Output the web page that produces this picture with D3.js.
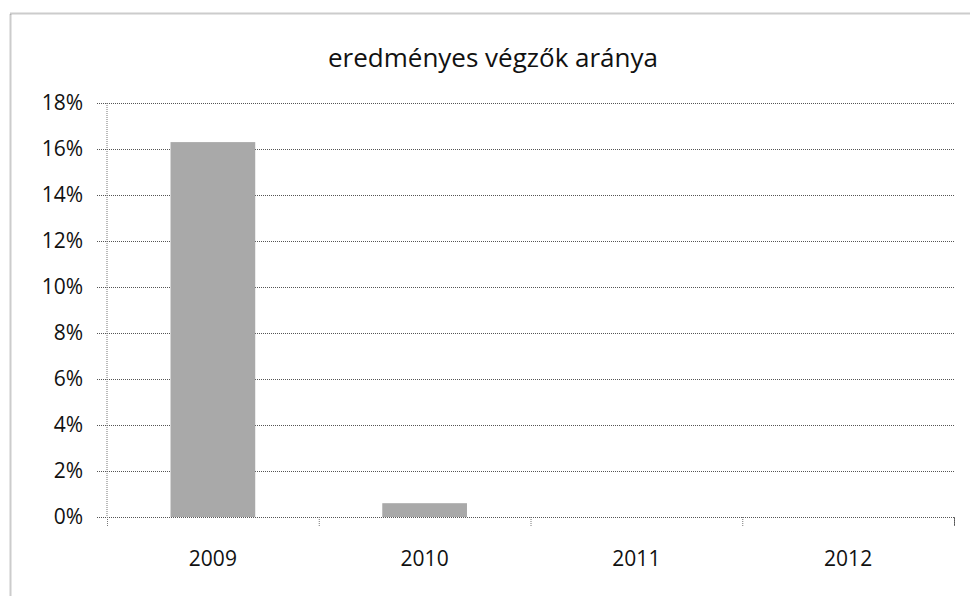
<!DOCTYPE html>
<html>
<head>
<meta charset="utf-8">
<script src="https://cdn.jsdelivr.net/npm/d3@7"></script>
<style>
  body { margin: 0; background: #fff; }
  svg { display: block; }
  text { font-family: "Open Sans", "DejaVu Sans", sans-serif; fill: #111; }
</style>
</head>
<body>
<div id="chart"></div>
<script>
// data
const years = ["2009", "2010", "2011", "2012"];
const ratio = [0.163, 0.006, 0, 0];
const yTicks = [0, 0.02, 0.04, 0.06, 0.08, 0.10, 0.12, 0.14, 0.16, 0.18];
const title = "eredményes végzők aránya";

const W = 970, H = 596;
const margin = { top: 103, right: 16, bottom: 79, left: 107 },
    width = W - margin.left - margin.right,
    height = H - margin.top - margin.bottom;

const root = d3.select("#chart").append("svg")
    .attr("width", W)
    .attr("height", H);

// outer chart border (runs off the right and bottom edge)
root.append("rect")
    .attr("x", 10.5).attr("y", 13.5)
    .attr("width", 980).attr("height", 600)
    .attr("fill", "none")
    .attr("stroke", "#999")
    .attr("stroke-width", 2)
    .attr("stroke-dasharray", "1,1");

root.append("text")
    .attr("x", 493)
    .attr("y", 67)
    .attr("text-anchor", "middle")
    .attr("font-size", 26)
    .text(title);

const svg = root.append("g")
    .attr("transform", `translate(${margin.left},${margin.top})`);

const y = d3.scaleLinear()
    .domain([0, 0.18])
    .range([height, 0]);

const x = d3.scaleBand()
    .domain(years)
    .range([0, width])
    .paddingInner(0.6)
    .paddingOuter(0.3);

// gridlines + y labels
svg.append("g")
    .call(d3.axisLeft(y)
        .tickValues(yTicks)
        .tickSize(-width - 10)
        .tickFormat(d3.format(".0%")))
    .attr("transform", "translate(-10,0)")
    .call(g => g.select(".domain").remove())
    .call(g => g.selectAll(".tick line")
        .attr("stroke", "#555")
        .attr("stroke-dasharray", "1,1"))
    .call(g => g.selectAll(".tick text")
        .attr("x", -14)
        .attr("font-size", 21)
        .attr("fill", "#222"));

// y axis line
svg.append("line")
    .attr("x1", 0).attr("x2", 0)
    .attr("y1", 0).attr("y2", height)
    .attr("stroke", "#777")
    .attr("stroke-dasharray", "1,1");

// bars
svg.selectAll("rect.bar")
    .data(years)
    .join("rect")
    .attr("class", "bar")
    .attr("x", d => x(d))
    .attr("width", x.bandwidth())
    .attr("y", (d, i) => y(ratio[i]))
    .attr("height", (d, i) => height - y(ratio[i]))
    .attr("fill", "#a9a9a9");

// x axis with category boundary ticks
const cat = d3.scalePoint().domain(d3.range(years.length + 1)).range([0, width]);
svg.append("g")
    .attr("transform", `translate(0,${height})`)
    .call(d3.axisBottom(cat).tickSize(9).tickFormat(""))
    .call(g => g.select(".domain").attr("stroke", "#555").attr("stroke-dasharray", "1,1"))
    .call(g => g.selectAll(".tick line").attr("stroke", "#777").attr("stroke-dasharray", "1,1"));

svg.append("g")
    .selectAll("text")
    .data(years)
    .join("text")
    .attr("x", d => x(d) + x.bandwidth() / 2)
    .attr("y", height + 49)
    .attr("text-anchor", "middle")
    .attr("font-size", 21)
    .attr("fill", "#222")
    .text(d => d);
</script>
</body>
</html>
